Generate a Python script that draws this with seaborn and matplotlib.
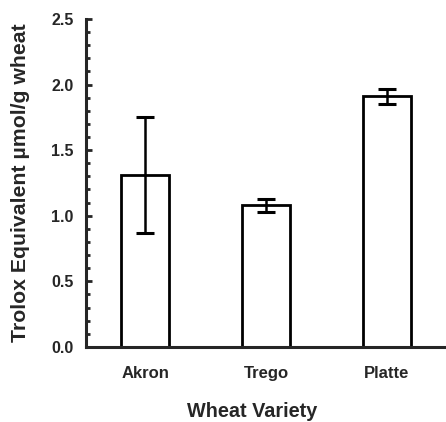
import matplotlib
matplotlib.use("Agg")
import matplotlib.pyplot as plt
import seaborn as sns
import pandas as pd
from matplotlib.ticker import MultipleLocator

varieties = ["Akron", "Trego", "Platte"]
means = [1.31, 1.08, 1.91]
errors = [0.44, 0.05, 0.06]

sns.set_style("ticks")
plt.rcParams['font.family'] = ['Liberation Sans', 'DejaVu Sans']
plt.rcParams['font.weight'] = 'bold'

fig = plt.figure(figsize=(4.46, 4.22), dpi=100)
ax = fig.add_axes([0.193, 0.178, 0.807, 0.777])

df = pd.DataFrame({"variety": varieties, "value": means})
sns.barplot(data=df, x="variety", y="value", ax=ax, color="white",
            edgecolor="black", linewidth=2, width=0.4, errorbar=None)
ax.errorbar(range(len(varieties)), means, yerr=errors, fmt="none",
            ecolor="black", elinewidth=1.8, capsize=6.5, capthick=2.2)

ax.set_xlim(-0.49, 2.49)
ax.set_ylim(0, 2.5)
ax.yaxis.set_major_locator(MultipleLocator(0.5))
ax.yaxis.set_minor_locator(MultipleLocator(0.1))
ax.yaxis.set_major_formatter(matplotlib.ticker.FormatStrFormatter("%.1f"))
ax.tick_params(axis="y", which="major", direction="in", length=4, width=2, labelsize=11.5, pad=9)
ax.tick_params(axis="y", which="minor", direction="in", length=3, width=2)
ax.tick_params(axis="x", length=0, labelsize=12, pad=14)
for lab in ax.get_xticklabels() + ax.get_yticklabels():
    lab.set_fontweight("bold")

for s in ["top", "right"]:
    ax.spines[s].set_visible(False)
for s in ["left", "bottom"]:
    ax.spines[s].set_linewidth(2.2)

ax.set_xlabel("Wheat Variety", fontsize=14.3, fontweight="bold")
ax.xaxis.set_label_coords(0.46, -0.168)
ax.xaxis.label.set_va("top")
ax.set_ylabel("Trolox Equivalent µmol/g wheat", fontsize=15.3, fontweight="bold")
ax.yaxis.set_label_coords(-0.155, 0.5)

fig.savefig("out.png", dpi=100)
